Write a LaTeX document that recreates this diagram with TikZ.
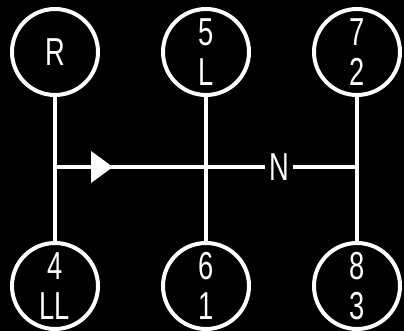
\documentclass[tikz,border=0pt]{standalone}
\usepackage{fontspec}
\usepackage{tikz}
\usetikzlibrary{arrows.meta, positioning}
\newfontfamily\gearfont[FakeStretch=0.7]{Liberation Sans}
\tikzstyle{gear} = [circle, 
minimum size=86pt, 
inner sep=0pt, 
line width=4pt, 
draw=white, 
text=white, 
align=center, 
font=\gearfont\fontsize{39}{40}\selectfont]
\tikzstyle{lever} = [line width=4pt, draw=white]
\tikzstyle{gatelabel} = [fill=black, text=white, inner sep=4pt, 
font=\gearfont\fontsize{39}{40}\selectfont]

\begin{document}
\begin{tikzpicture}[x=1pt, y=-1pt, node distance=144pt and 61pt]
        \fill[black] (0,0) rectangle (404,331);
        \useasboundingbox (0,0) rectangle (404,331);

        \node (rev) [gear] at (55,52) {R};
        \node (g5) [gear, right=of rev] {5\\L};
        \node (g7) [gear, right=of g5] {7\\2};
        \node (g4) [gear] at (55,286) {4\\LL};
        \node (g6) [gear, right=of g4] {6\\1};
        \node (g8) [gear, right=of g6] {8\\3};

        \coordinate (gate) at (0,167);
        \node (neutral) [gatelabel] at (279,167) {N};

        \draw [lever] (rev) -- (g4);
        \draw [lever] (g5) -- (g6);
        \draw [lever] (g7) -- (g8);

        \draw [lever] (rev |- gate) -- (neutral.west);
        \draw [lever] (neutral.east) -- (g7 |- gate);
        \draw [lever, -{Triangle[length=22pt, width=31pt]}] (rev |- gate) -- ++(58,0);

    \end{tikzpicture}
\end{document}
